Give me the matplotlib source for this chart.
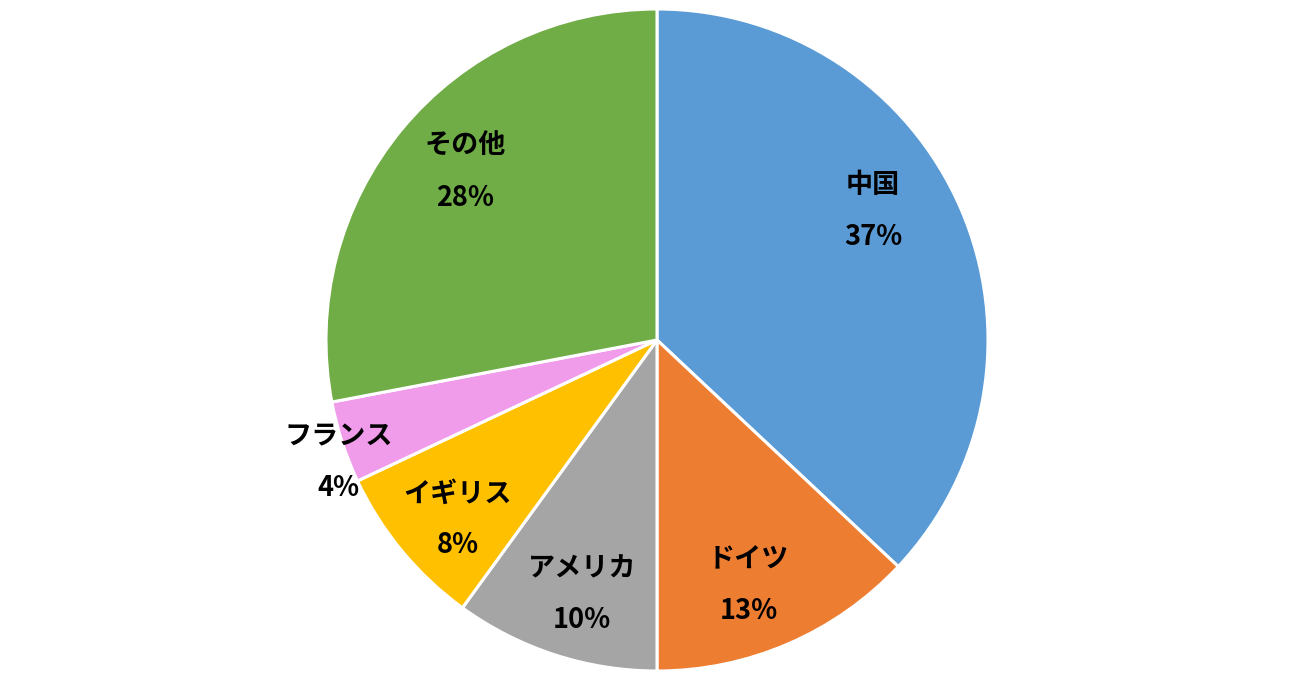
import matplotlib
matplotlib.use("Agg")
import matplotlib.pyplot as plt
import numpy as np

plt.rcParams['font.family'] = ['Noto Sans CJK JP', 'DejaVu Sans']

categories = ["中国", "ドイツ", "アメリカ", "イギリス", "フランス", "その他"]
values = [37, 13, 10, 8, 4, 28]
colors = ["#5B9BD5", "#ED7D31", "#A5A5A5", "#FFC000", "#F19CEB", "#70AD47"]

# label placement style: radius fraction and angular shift (deg) from wedge mid
label_r = [0.76, 0.79, 0.80, 0.81, 1.03, 0.77]
label_dth = [7.4, -2.9, 1.6, 2.4, 3.0, -1.7]

W, H = 1300, 680
fig = plt.figure(figsize=(W / 100, H / 100), dpi=100)
ax = fig.add_axes([0, 0, 1, 1])

R = 331.0
cx, cy = 657.0, 340.0
wedges, _ = ax.pie(values, colors=colors, startangle=90, counterclock=False,
                   radius=1.0,
                   wedgeprops=dict(edgecolor="white", linewidth=2.2))

total = sum(values)
for w, cat, v, r, dth in zip(wedges, categories, values, label_r, label_dth):
    mid = np.deg2rad((w.theta1 + w.theta2) / 2 + dth)
    x, y = r * np.cos(mid), r * np.sin(mid)
    ax.text(x, y, f"{cat}\n{round(100 * v / total)}%", ha="center", va="center",
            fontsize=19.5, fontweight="bold", linespacing=2.08, color="black")

ax.set_xlim(-cx / R, (W - cx) / R)
ax.set_ylim(-(H - cy) / R, cy / R)
ax.set_aspect("auto")
ax.axis("off")

fig.savefig("out.png", dpi=100)
